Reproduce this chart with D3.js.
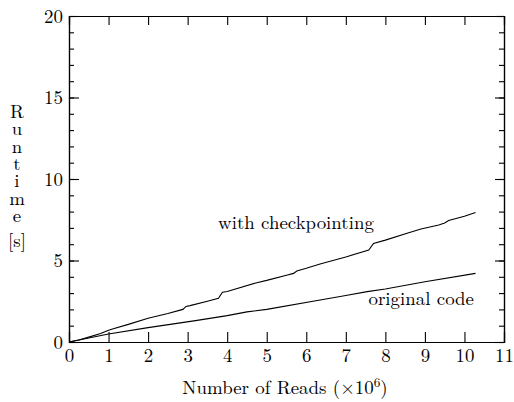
<!DOCTYPE html>
<html>
<head>
<meta charset="utf-8">
<script src="https://cdn.jsdelivr.net/npm/d3@7"></script>
<style>
  html, body { margin: 0; padding: 0; background: #fff; }
  svg { display: block; }
</style>
</head>
<body>
<script>
// Reads processed (millions) and runtime (seconds)
const checkpointReads = [0, 0.25, 0.5, 0.8, 1.0, 1.1, 1.5, 2.0, 2.5, 2.88, 2.96, 3.06, 3.5, 3.78, 3.88, 4.0, 4.75, 5.0, 5.5, 5.68, 5.76, 6.0, 6.35, 6.65, 7.0, 7.58, 7.7, 8.0, 8.55, 8.9, 9.35, 9.5, 9.6, 10.0, 10.28];
const checkpointTime  = [0, 0.12, 0.3, 0.52, 0.72, 0.8, 1.08, 1.46, 1.75, 2.0, 2.18, 2.23, 2.5, 2.68, 3.05, 3.1, 3.64, 3.78, 4.1, 4.21, 4.35, 4.52, 4.79, 4.99, 5.22, 5.64, 6.05, 6.25, 6.67, 6.93, 7.18, 7.3, 7.45, 7.72, 7.95];
const originalReads = [0, 0.5, 1.0, 2.0, 3.2, 4.0, 4.5, 5.0, 6.35, 7.0, 7.54, 8.0, 9.0, 10.28];
const originalTime  = [0, 0.25, 0.49, 0.88, 1.31, 1.62, 1.85, 2.0, 2.58, 2.85, 3.09, 3.25, 3.7, 4.21];

const xTicks = [0, 1, 2, 3, 4, 5, 6, 7, 8, 9, 10, 11];
const yMajorTicks = [0, 5, 10, 15, 20];
const yMinorTicks = d3.range(0, 21);
const yTitleWord = "Runtime";
const yTitleUnit = "[s]";

const W = 514, H = 402;
const plotLeft = 69, plotRight = 504, plotTop = 16, plotBottom = 342;
const FONT = '"Latin Modern Roman", "Liberation Serif", serif';

const svg = d3.select("body").append("svg").attr("width", W).attr("height", H);

const x = d3.scaleLinear().domain([0, 11]).range([plotLeft, plotRight]);
const y = d3.scaleLinear().domain([0, 20]).range([plotBottom, plotTop]);

// Pick a font size so the series label spans its usual width
const probe = svg.append("text").style("font-family", FONT).attr("font-size", 20).text("with checkpointing");
const fontSize = 20 * 156 / probe.node().getComputedTextLength();
probe.remove();

// Bottom axis: ticks point inward, labels below
const gBottom = svg.append("g").attr("transform", `translate(0,${plotBottom})`)
  .call(d3.axisBottom(x).tickValues(xTicks).tickSize(-10).tickPadding(7).tickFormat(d3.format("d")));
// Top axis: inward ticks, no labels
svg.append("g").attr("transform", `translate(0,${plotTop})`)
  .call(d3.axisTop(x).tickValues(xTicks).tickSize(-9).tickFormat(""));
// Left axis: minor then major ticks
svg.append("g").attr("transform", `translate(${plotLeft},0)`)
  .call(d3.axisLeft(y).tickValues(yMinorTicks).tickSize(-5).tickFormat(""));
const gLeft = svg.append("g").attr("transform", `translate(${plotLeft},0)`)
  .call(d3.axisLeft(y).tickValues(yMajorTicks).tickSize(-10).tickPadding(6).tickFormat(d3.format("d")));
// Right axis
svg.append("g").attr("transform", `translate(${plotRight},0)`)
  .call(d3.axisRight(y).tickValues(yMinorTicks).tickSize(-5).tickFormat(""));
svg.append("g").attr("transform", `translate(${plotRight},0)`)
  .call(d3.axisRight(y).tickValues(yMajorTicks).tickSize(-9).tickFormat(""));

svg.selectAll(".domain").attr("stroke", "#000").attr("stroke-width", 1.2);
svg.selectAll(".tick line").attr("stroke", "#000").attr("stroke-width", 1.1);
svg.selectAll(".tick text")
  .style("font-family", FONT)
  .attr("font-size", fontSize).attr("fill", "#000");
gLeft.selectAll(".tick text").attr("dy", "0.34em");
gBottom.selectAll(".tick text").attr("dy", "0.7em");

// Data lines
const line = d3.line().x(d => x(d[0])).y(d => y(d[1]));
const checkpointData = checkpointReads.map((r, i) => [r, checkpointTime[i]]);
const originalData = originalReads.map((r, i) => [r, originalTime[i]]);

svg.append("path").datum(checkpointData)
  .attr("d", line).attr("fill", "none").attr("stroke", "#000").attr("stroke-width", 1.1);
svg.append("path").datum(originalData)
  .attr("d", line).attr("fill", "none").attr("stroke", "#000").attr("stroke-width", 1.1);

// Series labels
svg.append("text").style("font-family", FONT).attr("fill", "#000")
  .attr("x", 218).attr("y", 229).attr("font-size", fontSize)
  .text("with checkpointing");
svg.append("text").style("font-family", FONT).attr("fill", "#000")
  .attr("x", 474).attr("y", 305).attr("font-size", fontSize)
  .attr("text-anchor", "end").text("original code");

// X axis title
const xt = svg.append("text").style("font-family", FONT).attr("fill", "#000")
  .attr("x", 285).attr("y", 394).attr("font-size", fontSize)
  .attr("text-anchor", "middle");
xt.append("tspan").text("Number of Reads (×10");
xt.append("tspan").attr("font-size", fontSize * 0.7).attr("dy", -7).text("6");
xt.append("tspan").attr("dy", 7).text(")");

// Y axis title: upright letters running top to bottom, unit underneath
const letterStep = 17.3;      // distance between stacked letters
const firstLetterCenter = 110;
const yTitle = svg.append("text").style("font-family", FONT).attr("fill", "#000")
  .style("writing-mode", "vertical-rl").style("text-orientation", "upright")
  .attr("x", 17).attr("font-size", fontSize)
  .text(yTitleWord);
let advance = yTitle.node().getComputedTextLength() / yTitleWord.length;
if (!(advance > 8 && advance < 40)) advance = 26.3;
yTitle.style("letter-spacing", `${letterStep - advance}px`)
  .attr("y", firstLetterCenter - advance / 2);
svg.append("text").style("font-family", FONT).attr("fill", "#000")
  .attr("x", 17).attr("y", 247).attr("text-anchor", "middle").attr("font-size", fontSize)
  .text(yTitleUnit);
</script>
</body>
</html>
